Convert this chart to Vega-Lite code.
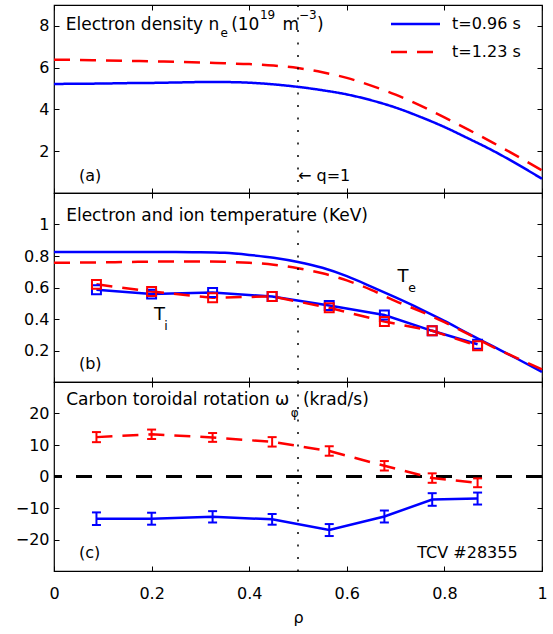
{
  "$schema": "https://vega.github.io/schema/vega-lite/v6.json",
  "padding": {"left": 14, "top": 3, "right": 5, "bottom": 5},
  "spacing": 0,
  "bounds": "flush",
  "resolve": {"scale": {"color": "independent", "strokeDash": "independent"}},
  "config": {
    "view": {"stroke": "#000", "strokeWidth": 1.2},
    "axis": {"domain": false, "grid": false, "ticks": true, "tickColor": "#000", "tickSize": -5, "tickWidth": 1,
             "labelFont": "DejaVu Sans", "labelFontSize": 16, "labelColor": "#000", "labelPadding": 10,
             "labelFlush": false, "labelOverlap": false,
             "titleFont": "DejaVu Sans", "titleFontSize": 16, "titleFontWeight": "normal", "titleColor": "#000"},
    "axisBottom": {"labelPadding": 19, "titlePadding": 8},
    "text": {"font": "DejaVu Sans", "color": "#000", "baseline": "alphabetic", "align": "left"}
  },
  "datasets": {
    "ne": [
      {"rho": 0, "v": 5.22, "t": "t=0.96 s"}, {"rho": 0.05, "v": 5.23, "t": "t=0.96 s"}, {"rho": 0.1, "v": 5.24, "t": "t=0.96 s"},
      {"rho": 0.15, "v": 5.26, "t": "t=0.96 s"}, {"rho": 0.2, "v": 5.27, "t": "t=0.96 s"}, {"rho": 0.25, "v": 5.29, "t": "t=0.96 s"},
      {"rho": 0.3, "v": 5.31, "t": "t=0.96 s"}, {"rho": 0.35, "v": 5.31, "t": "t=0.96 s"}, {"rho": 0.4, "v": 5.28, "t": "t=0.96 s"},
      {"rho": 0.45, "v": 5.2, "t": "t=0.96 s"}, {"rho": 0.5, "v": 5.08, "t": "t=0.96 s"}, {"rho": 0.55, "v": 4.92, "t": "t=0.96 s"},
      {"rho": 0.6, "v": 4.72, "t": "t=0.96 s"}, {"rho": 0.65, "v": 4.44, "t": "t=0.96 s"}, {"rho": 0.7, "v": 4.09, "t": "t=0.96 s"},
      {"rho": 0.75, "v": 3.65, "t": "t=0.96 s"}, {"rho": 0.8, "v": 3.16, "t": "t=0.96 s"}, {"rho": 0.85, "v": 2.6, "t": "t=0.96 s"},
      {"rho": 0.9, "v": 2.02, "t": "t=0.96 s"}, {"rho": 0.95, "v": 1.37, "t": "t=0.96 s"}, {"rho": 1.0, "v": 0.68, "t": "t=0.96 s"},
      {"rho": 0, "v": 6.38, "t": "t=1.23 s"}, {"rho": 0.05, "v": 6.37, "t": "t=1.23 s"}, {"rho": 0.1, "v": 6.35, "t": "t=1.23 s"},
      {"rho": 0.15, "v": 6.33, "t": "t=1.23 s"}, {"rho": 0.2, "v": 6.3, "t": "t=1.23 s"}, {"rho": 0.25, "v": 6.28, "t": "t=1.23 s"},
      {"rho": 0.3, "v": 6.25, "t": "t=1.23 s"}, {"rho": 0.35, "v": 6.21, "t": "t=1.23 s"}, {"rho": 0.4, "v": 6.17, "t": "t=1.23 s"},
      {"rho": 0.45, "v": 6.1, "t": "t=1.23 s"}, {"rho": 0.5, "v": 5.98, "t": "t=1.23 s"}, {"rho": 0.55, "v": 5.78, "t": "t=1.23 s"},
      {"rho": 0.6, "v": 5.51, "t": "t=1.23 s"}, {"rho": 0.65, "v": 5.14, "t": "t=1.23 s"}, {"rho": 0.7, "v": 4.71, "t": "t=1.23 s"},
      {"rho": 0.75, "v": 4.19, "t": "t=1.23 s"}, {"rho": 0.8, "v": 3.62, "t": "t=1.23 s"}, {"rho": 0.85, "v": 3.02, "t": "t=1.23 s"},
      {"rho": 0.9, "v": 2.4, "t": "t=1.23 s"}, {"rho": 0.95, "v": 1.75, "t": "t=1.23 s"}, {"rho": 1.0, "v": 1.08, "t": "t=1.23 s"}
    ],
    "teB": [
      {"rho": 0, "v": 0.826}, {"rho": 0.05, "v": 0.826}, {"rho": 0.1, "v": 0.826}, {"rho": 0.15, "v": 0.826}, {"rho": 0.2, "v": 0.826},
      {"rho": 0.25, "v": 0.825}, {"rho": 0.3, "v": 0.824}, {"rho": 0.35, "v": 0.82}, {"rho": 0.4, "v": 0.807}, {"rho": 0.45, "v": 0.789},
      {"rho": 0.5, "v": 0.762}, {"rho": 0.55, "v": 0.725}, {"rho": 0.6, "v": 0.672}, {"rho": 0.65, "v": 0.606}, {"rho": 0.7, "v": 0.537},
      {"rho": 0.75, "v": 0.465}, {"rho": 0.8, "v": 0.388}, {"rho": 0.85, "v": 0.306}, {"rho": 0.9, "v": 0.226}, {"rho": 0.95, "v": 0.146},
      {"rho": 1.0, "v": 0.064}
    ],
    "teR": [
      {"rho": 0, "v": 0.757}, {"rho": 0.05, "v": 0.758}, {"rho": 0.1, "v": 0.76}, {"rho": 0.15, "v": 0.762}, {"rho": 0.2, "v": 0.764},
      {"rho": 0.25, "v": 0.765}, {"rho": 0.3, "v": 0.765}, {"rho": 0.35, "v": 0.763}, {"rho": 0.4, "v": 0.757}, {"rho": 0.45, "v": 0.745},
      {"rho": 0.5, "v": 0.722}, {"rho": 0.55, "v": 0.69}, {"rho": 0.6, "v": 0.645}, {"rho": 0.65, "v": 0.585}, {"rho": 0.7, "v": 0.514},
      {"rho": 0.75, "v": 0.45}, {"rho": 0.8, "v": 0.38}, {"rho": 0.85, "v": 0.302}, {"rho": 0.9, "v": 0.222}, {"rho": 0.95, "v": 0.15},
      {"rho": 1.0, "v": 0.08}
    ],
    "tiB": [
      {"rho": 0.087, "v": 0.586}, {"rho": 0.2, "v": 0.558}, {"rho": 0.325, "v": 0.568}, {"rho": 0.447, "v": 0.543},
      {"rho": 0.564, "v": 0.486}, {"rho": 0.677, "v": 0.425}, {"rho": 0.775, "v": 0.325}, {"rho": 0.868, "v": 0.24}
    ],
    "tiR": [
      {"rho": 0.087, "v": 0.62}, {"rho": 0.2, "v": 0.574}, {"rho": 0.325, "v": 0.535}, {"rho": 0.447, "v": 0.543},
      {"rho": 0.564, "v": 0.471}, {"rho": 0.677, "v": 0.384}, {"rho": 0.775, "v": 0.325}, {"rho": 0.868, "v": 0.23}
    ],
    "rotB": [
      {"rho": 0.087, "v": -13.4, "lo": -15.4, "hi": -11.4}, {"rho": 0.2, "v": -13.4, "lo": -15.3, "hi": -11.5},
      {"rho": 0.325, "v": -12.8, "lo": -14.6, "hi": -11.0}, {"rho": 0.447, "v": -13.6, "lo": -15.3, "hi": -11.9},
      {"rho": 0.564, "v": -17.0, "lo": -18.9, "hi": -15.1}, {"rho": 0.677, "v": -12.7, "lo": -14.6, "hi": -10.8},
      {"rho": 0.775, "v": -7.3, "lo": -9.3, "hi": -5.3}, {"rho": 0.868, "v": -7.0, "lo": -8.9, "hi": -5.1}
    ],
    "rotR": [
      {"rho": 0.087, "v": 12.5, "lo": 10.9, "hi": 14.1}, {"rho": 0.2, "v": 13.4, "lo": 11.9, "hi": 14.9},
      {"rho": 0.325, "v": 12.4, "lo": 11.0, "hi": 13.8}, {"rho": 0.447, "v": 11.0, "lo": 9.5, "hi": 12.5},
      {"rho": 0.564, "v": 8.1, "lo": 6.6, "hi": 9.6}, {"rho": 0.677, "v": 3.4, "lo": 1.9, "hi": 4.9},
      {"rho": 0.775, "v": -0.5, "lo": -2.0, "hi": 1.0}, {"rho": 0.868, "v": -2.0, "lo": -3.4, "hi": -0.6}
    ],
    "q1": [{"rho": 0.5}],
    "zero": [{"v": 0}],
    "tA17": [
      {"rho": 0.024, "v": 7.8, "label": "Electron density n"}, {"rho": 0.363, "v": 7.8, "label": "(10"},
      {"rho": 0.468, "v": 7.8, "label": "m"}, {"rho": 0.539, "v": 7.8, "label": ")"}
    ],
    "tA12": [
      {"rho": 0.341, "v": 7.48, "label": "e"}, {"rho": 0.422, "v": 8.31, "label": "19"}, {"rho": 0.502, "v": 8.31, "label": "−3"}
    ],
    "tA16": [
      {"rho": 0.051, "v": 0.575, "label": "(a)"}, {"rho": 0.5, "v": 0.575, "label": "← q=1"}
    ],
    "tB17": [{"rho": 0.025, "v": 1.022, "label": "Electron and ion temperature (KeV)"}],
    "tB16": [{"rho": 0.051, "v": 0.083, "label": "(b)"}],
    "tB18": [{"rho": 0.704, "v": 0.633, "label": "T"}, {"rho": 0.205, "v": 0.394, "label": "T"}],
    "tB12": [{"rho": 0.726, "v": 0.571, "label": "e"}, {"rho": 0.226, "v": 0.33, "label": "i"}],
    "tC17": [{"rho": 0.025, "v": 22.7, "label": "Carbon toroidal rotation ω"}, {"rho": 0.51, "v": 22.7, "label": "(krad/s)"}],
    "tC12": [{"rho": 0.485, "v": 19.0, "label": "φ"}],
    "tC16": [{"rho": 0.051, "v": -25.9, "label": "(c)"}],
    "tC16r": [{"rho": 0.95, "v": -25.9, "label": "TCV #28355"}]
  },
  "vconcat": [
    {
      "width": 488, "height": 188,
      "resolve": {"axis": {"x": "independent", "y": "independent"}},
      "layer": [
        {
          "data": {"name": "ne"},
          "mark": {"type": "line", "strokeWidth": 2.5, "interpolate": "monotone"},
          "encoding": {
            "x": {"field": "rho", "type": "quantitative", "scale": {"domain": [0, 1], "nice": false, "zero": false},
                  "axis": {"orient": "bottom", "values": [0, 0.2, 0.4, 0.6, 0.8, 1], "labels": false, "title": null}},
            "y": {"field": "v", "type": "quantitative", "scale": {"domain": [0, 9], "nice": false, "zero": false},
                  "axis": {"orient": "left", "values": [2, 4, 6, 8], "format": "d", "title": null}},
            "color": {"field": "t", "type": "nominal", "scale": {"domain": ["t=0.96 s", "t=1.23 s"], "range": ["#0000ff", "#ff0000"]},
                      "legend": {"title": null, "orient": "none", "legendX": 353.5, "legendY": 11, "symbolType": "M-4.9,0H4.9", "symbolSize": 100,
                                 "symbolStrokeWidth": 2.5, "labelFont": "DejaVu Sans", "labelFontSize": 16, "labelColor": "#000",
                                 "labelOffset": 28.5, "rowPadding": 12, "padding": 0}},
            "strokeDash": {"field": "t", "type": "nominal", "scale": {"domain": ["t=0.96 s", "t=1.23 s"], "range": [[1, 0], [16, 10]]},
                      "legend": {"title": null, "orient": "none", "legendX": 353.5, "legendY": 11, "symbolType": "M-4.9,0H4.9", "symbolSize": 100,
                                 "symbolStrokeWidth": 2.5, "labelFont": "DejaVu Sans", "labelFontSize": 16, "labelColor": "#000",
                                 "labelOffset": 28.5, "rowPadding": 12, "padding": 0}}
          }
        },
        {
          "data": {"name": "q1"},
          "mark": {"type": "rule", "strokeDash": [2, 10.5], "strokeWidth": 1.5, "color": "#000"},
          "encoding": {"x": {"field": "rho", "type": "quantitative", "scale": {"domain": [0, 1], "nice": false, "zero": false}, "axis": null}}
        },
        {
          "data": {"name": "tA17"},
          "mark": {"type": "text", "fontSize": 17},
          "encoding": {
            "x": {"field": "rho", "type": "quantitative", "scale": {"domain": [0, 1], "nice": false, "zero": false},
                  "axis": {"orient": "top", "values": [0, 0.2, 0.4, 0.6, 0.8, 1], "labels": false, "title": null}},
            "y": {"field": "v", "type": "quantitative", "scale": {"domain": [0, 9], "nice": false, "zero": false},
                  "axis": {"orient": "right", "values": [2, 4, 6, 8], "labels": false, "title": null}},
            "text": {"field": "label"}
          }
        },
        {
          "data": {"name": "tA12"},
          "mark": {"type": "text", "fontSize": 12},
          "encoding": {
            "x": {"field": "rho", "type": "quantitative", "scale": {"domain": [0, 1], "nice": false, "zero": false}, "axis": null},
            "y": {"field": "v", "type": "quantitative", "scale": {"domain": [0, 9], "nice": false, "zero": false}, "axis": null},
            "text": {"field": "label"}
          }
        },
        {
          "data": {"name": "tA16"},
          "mark": {"type": "text", "fontSize": 16},
          "encoding": {
            "x": {"field": "rho", "type": "quantitative", "scale": {"domain": [0, 1], "nice": false, "zero": false}, "axis": null},
            "y": {"field": "v", "type": "quantitative", "scale": {"domain": [0, 9], "nice": false, "zero": false}, "axis": null},
            "text": {"field": "label"}
          }
        }
      ]
    },
    {
      "width": 488, "height": 189,
      "resolve": {"axis": {"x": "independent", "y": "independent"}},
      "layer": [
        {
          "data": {"name": "teB"},
          "mark": {"type": "line", "strokeWidth": 2.5, "interpolate": "monotone", "color": "#0000ff"},
          "encoding": {
            "x": {"field": "rho", "type": "quantitative", "scale": {"domain": [0, 1], "nice": false, "zero": false},
                  "axis": {"orient": "bottom", "values": [0, 0.2, 0.4, 0.6, 0.8, 1], "labels": false, "title": null}},
            "y": {"field": "v", "type": "quantitative", "scale": {"domain": [0, 1.2], "nice": false, "zero": false},
                  "axis": {"orient": "left", "values": [0.2, 0.4, 0.6, 0.8, 1], "format": "~g", "title": null}}
          }
        },
        {
          "data": {"name": "teR"},
          "mark": {"type": "line", "strokeWidth": 2.5, "interpolate": "monotone", "color": "#ff0000", "strokeDash": [16, 10]},
          "encoding": {
            "x": {"field": "rho", "type": "quantitative", "scale": {"domain": [0, 1], "nice": false, "zero": false}, "axis": null},
            "y": {"field": "v", "type": "quantitative", "scale": {"domain": [0, 1.2], "nice": false, "zero": false}, "axis": null}
          }
        },
        {
          "data": {"name": "tiB"},
          "mark": {"type": "line", "strokeWidth": 2.5, "color": "#0000ff"},
          "encoding": {
            "x": {"field": "rho", "type": "quantitative", "scale": {"domain": [0, 1], "nice": false, "zero": false}, "axis": null},
            "y": {"field": "v", "type": "quantitative", "scale": {"domain": [0, 1.2], "nice": false, "zero": false}, "axis": null}
          }
        },
        {
          "data": {"name": "tiR"},
          "mark": {"type": "line", "strokeWidth": 2.5, "color": "#ff0000", "strokeDash": [16, 10]},
          "encoding": {
            "x": {"field": "rho", "type": "quantitative", "scale": {"domain": [0, 1], "nice": false, "zero": false}, "axis": null},
            "y": {"field": "v", "type": "quantitative", "scale": {"domain": [0, 1.2], "nice": false, "zero": false}, "axis": null}
          }
        },
        {
          "data": {"name": "tiB"},
          "mark": {"type": "point", "shape": "square", "filled": false, "size": 80, "strokeWidth": 2, "color": "#0000ff", "opacity": 1},
          "encoding": {
            "x": {"field": "rho", "type": "quantitative", "scale": {"domain": [0, 1], "nice": false, "zero": false}, "axis": null},
            "y": {"field": "v", "type": "quantitative", "scale": {"domain": [0, 1.2], "nice": false, "zero": false}, "axis": null}
          }
        },
        {
          "data": {"name": "tiR"},
          "mark": {"type": "point", "shape": "square", "filled": false, "size": 80, "strokeWidth": 2, "color": "#ff0000", "opacity": 1},
          "encoding": {
            "x": {"field": "rho", "type": "quantitative", "scale": {"domain": [0, 1], "nice": false, "zero": false}, "axis": null},
            "y": {"field": "v", "type": "quantitative", "scale": {"domain": [0, 1.2], "nice": false, "zero": false}, "axis": null}
          }
        },
        {
          "data": {"name": "q1"},
          "mark": {"type": "rule", "strokeDash": [2, 10.5], "strokeWidth": 1.5, "color": "#000"},
          "encoding": {"x": {"field": "rho", "type": "quantitative", "scale": {"domain": [0, 1], "nice": false, "zero": false}, "axis": null}}
        },
        {
          "data": {"name": "tB17"},
          "mark": {"type": "text", "fontSize": 17},
          "encoding": {
            "x": {"field": "rho", "type": "quantitative", "scale": {"domain": [0, 1], "nice": false, "zero": false},
                  "axis": {"orient": "top", "values": [0, 0.2, 0.4, 0.6, 0.8, 1], "labels": false, "title": null}},
            "y": {"field": "v", "type": "quantitative", "scale": {"domain": [0, 1.2], "nice": false, "zero": false},
                  "axis": {"orient": "right", "values": [0.2, 0.4, 0.6, 0.8, 1], "labels": false, "title": null}},
            "text": {"field": "label"}
          }
        },
        {
          "data": {"name": "tB16"},
          "mark": {"type": "text", "fontSize": 16},
          "encoding": {
            "x": {"field": "rho", "type": "quantitative", "scale": {"domain": [0, 1], "nice": false, "zero": false}, "axis": null},
            "y": {"field": "v", "type": "quantitative", "scale": {"domain": [0, 1.2], "nice": false, "zero": false}, "axis": null},
            "text": {"field": "label"}
          }
        },
        {
          "data": {"name": "tB18"},
          "mark": {"type": "text", "fontSize": 18},
          "encoding": {
            "x": {"field": "rho", "type": "quantitative", "scale": {"domain": [0, 1], "nice": false, "zero": false}, "axis": null},
            "y": {"field": "v", "type": "quantitative", "scale": {"domain": [0, 1.2], "nice": false, "zero": false}, "axis": null},
            "text": {"field": "label"}
          }
        },
        {
          "data": {"name": "tB12"},
          "mark": {"type": "text", "fontSize": 12.5},
          "encoding": {
            "x": {"field": "rho", "type": "quantitative", "scale": {"domain": [0, 1], "nice": false, "zero": false}, "axis": null},
            "y": {"field": "v", "type": "quantitative", "scale": {"domain": [0, 1.2], "nice": false, "zero": false}, "axis": null},
            "text": {"field": "label"}
          }
        }
      ]
    },
    {
      "width": 488, "height": 189,
      "resolve": {"axis": {"x": "independent", "y": "independent"}},
      "layer": [
        {
          "data": {"name": "zero"},
          "mark": {"type": "rule", "strokeDash": [16, 14], "strokeWidth": 2.8, "color": "#000"},
          "encoding": {
            "y": {"field": "v", "type": "quantitative", "scale": {"domain": [-30, 30], "nice": false, "zero": false}, "axis": null}
          }
        },
        {
          "data": {"name": "rotB"},
          "mark": {"type": "line", "strokeWidth": 2.5, "color": "#0000ff"},
          "encoding": {
            "x": {"field": "rho", "type": "quantitative", "scale": {"domain": [0, 1], "nice": false, "zero": false},
                  "axis": {"orient": "bottom", "values": [0, 0.2, 0.4, 0.6, 0.8, 1], "format": "~g", "title": "ρ"}},
            "y": {"field": "v", "type": "quantitative", "scale": {"domain": [-30, 30], "nice": false, "zero": false},
                  "axis": {"orient": "left", "values": [-20, -10, 0, 10, 20], "format": "d", "title": null}}
          }
        },
        {
          "data": {"name": "rotR"},
          "mark": {"type": "line", "strokeWidth": 2.5, "color": "#ff0000", "strokeDash": [16, 10]},
          "encoding": {
            "x": {"field": "rho", "type": "quantitative", "scale": {"domain": [0, 1], "nice": false, "zero": false}, "axis": null},
            "y": {"field": "v", "type": "quantitative", "scale": {"domain": [-30, 30], "nice": false, "zero": false}, "axis": null}
          }
        },
        {
          "data": {"name": "rotB"},
          "mark": {"type": "rule", "strokeWidth": 2, "color": "#0000ff"},
          "encoding": {
            "x": {"field": "rho", "type": "quantitative", "scale": {"domain": [0, 1], "nice": false, "zero": false}, "axis": null},
            "y": {"field": "lo", "type": "quantitative", "scale": {"domain": [-30, 30], "nice": false, "zero": false}, "axis": null},
            "y2": {"field": "hi"}
          }
        },
        {
          "data": {"name": "rotR"},
          "mark": {"type": "rule", "strokeWidth": 2, "color": "#ff0000"},
          "encoding": {
            "x": {"field": "rho", "type": "quantitative", "scale": {"domain": [0, 1], "nice": false, "zero": false}, "axis": null},
            "y": {"field": "lo", "type": "quantitative", "scale": {"domain": [-30, 30], "nice": false, "zero": false}, "axis": null},
            "y2": {"field": "hi"}
          }
        },
        {
          "data": {"name": "rotB"},
          "mark": {"type": "tick", "orient": "horizontal", "size": 9, "thickness": 2, "color": "#0000ff", "opacity": 1},
          "encoding": {
            "x": {"field": "rho", "type": "quantitative", "scale": {"domain": [0, 1], "nice": false, "zero": false}, "axis": null},
            "y": {"field": "lo", "type": "quantitative", "scale": {"domain": [-30, 30], "nice": false, "zero": false}, "axis": null}
          }
        },
        {
          "data": {"name": "rotB"},
          "mark": {"type": "tick", "orient": "horizontal", "size": 9, "thickness": 2, "color": "#0000ff", "opacity": 1},
          "encoding": {
            "x": {"field": "rho", "type": "quantitative", "scale": {"domain": [0, 1], "nice": false, "zero": false}, "axis": null},
            "y": {"field": "hi", "type": "quantitative", "scale": {"domain": [-30, 30], "nice": false, "zero": false}, "axis": null}
          }
        },
        {
          "data": {"name": "rotR"},
          "mark": {"type": "tick", "orient": "horizontal", "size": 9, "thickness": 2, "color": "#ff0000", "opacity": 1},
          "encoding": {
            "x": {"field": "rho", "type": "quantitative", "scale": {"domain": [0, 1], "nice": false, "zero": false}, "axis": null},
            "y": {"field": "lo", "type": "quantitative", "scale": {"domain": [-30, 30], "nice": false, "zero": false}, "axis": null}
          }
        },
        {
          "data": {"name": "rotR"},
          "mark": {"type": "tick", "orient": "horizontal", "size": 9, "thickness": 2, "color": "#ff0000", "opacity": 1},
          "encoding": {
            "x": {"field": "rho", "type": "quantitative", "scale": {"domain": [0, 1], "nice": false, "zero": false}, "axis": null},
            "y": {"field": "hi", "type": "quantitative", "scale": {"domain": [-30, 30], "nice": false, "zero": false}, "axis": null}
          }
        },
        {
          "data": {"name": "q1"},
          "mark": {"type": "rule", "strokeDash": [2, 10.5], "strokeWidth": 1.5, "color": "#000"},
          "encoding": {"x": {"field": "rho", "type": "quantitative", "scale": {"domain": [0, 1], "nice": false, "zero": false}, "axis": null}}
        },
        {
          "data": {"name": "tC17"},
          "mark": {"type": "text", "fontSize": 17},
          "encoding": {
            "x": {"field": "rho", "type": "quantitative", "scale": {"domain": [0, 1], "nice": false, "zero": false},
                  "axis": {"orient": "top", "values": [0, 0.2, 0.4, 0.6, 0.8, 1], "labels": false, "title": null}},
            "y": {"field": "v", "type": "quantitative", "scale": {"domain": [-30, 30], "nice": false, "zero": false},
                  "axis": {"orient": "right", "values": [-20, -10, 0, 10, 20], "labels": false, "title": null}},
            "text": {"field": "label"}
          }
        },
        {
          "data": {"name": "tC12"},
          "mark": {"type": "text", "fontSize": 12},
          "encoding": {
            "x": {"field": "rho", "type": "quantitative", "scale": {"domain": [0, 1], "nice": false, "zero": false}, "axis": null},
            "y": {"field": "v", "type": "quantitative", "scale": {"domain": [-30, 30], "nice": false, "zero": false}, "axis": null},
            "text": {"field": "label"}
          }
        },
        {
          "data": {"name": "tC16"},
          "mark": {"type": "text", "fontSize": 16},
          "encoding": {
            "x": {"field": "rho", "type": "quantitative", "scale": {"domain": [0, 1], "nice": false, "zero": false}, "axis": null},
            "y": {"field": "v", "type": "quantitative", "scale": {"domain": [-30, 30], "nice": false, "zero": false}, "axis": null},
            "text": {"field": "label"}
          }
        },
        {
          "data": {"name": "tC16r"},
          "mark": {"type": "text", "fontSize": 16, "align": "right"},
          "encoding": {
            "x": {"field": "rho", "type": "quantitative", "scale": {"domain": [0, 1], "nice": false, "zero": false}, "axis": null},
            "y": {"field": "v", "type": "quantitative", "scale": {"domain": [-30, 30], "nice": false, "zero": false}, "axis": null},
            "text": {"field": "label"}
          }
        }
      ]
    }
  ]
}
